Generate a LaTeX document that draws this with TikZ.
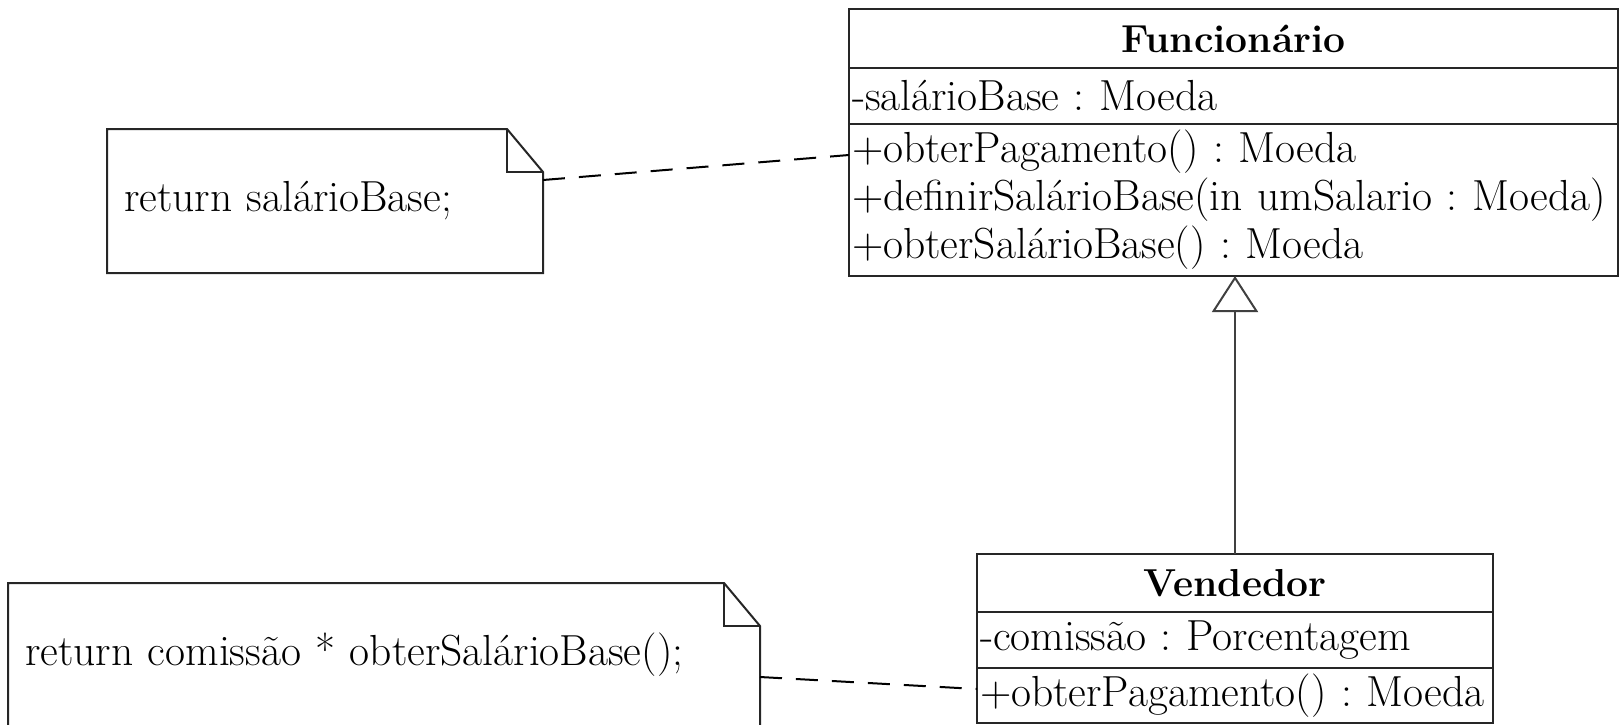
\documentclass[tikz,border=0pt]{standalone}
\usepackage{tikz}
\usetikzlibrary{positioning,calc,arrows.meta}
\frenchspacing

\begin{document}
\begin{tikzpicture}[
    x=1pt, y=-1pt,
    font=\fontsize{43.5}{48}\selectfont,
    classpart/.style={rectangle, draw=black!85, line width=2.5pt, inner xsep=3pt, inner ysep=0pt, outer sep=0pt, align=left},
    classname/.style={classpart, align=center, font=\fontsize{39}{48}\selectfont\bfseries},
    notebox/.style={rectangle, inner xsep=17pt, inner ysep=0pt, outer sep=0pt, align=left, anchor=north west},
    noteline/.style={line width=2pt, black!85},
    notelink/.style={line width=2pt, dash pattern=on 22pt off 14pt},
    inherit/.style={line width=2pt, black!75, -{Triangle[open, length=36pt, width=46pt, line width=2pt]}}
]
    \useasboundingbox (0,0) rectangle (1619,724);

    % Class Funcionario
    \node[classname, text width=763pt, minimum height=59pt, anchor=north west] (funcName) at (849,9) {Funcionário};
    \node[classpart, text width=763pt, minimum height=56pt, below=0pt of funcName] (funcAttr) {-salárioBase : Moeda};
    \node[classpart, text width=763pt, minimum height=152pt, below=0pt of funcAttr] (funcOps) {+obterPagamento() : Moeda\\+definirSalárioBase(in umSalario : Moeda)\\+obterSalárioBase() : Moeda};

    % Class Vendedor
    \node[classname, text width=510pt, minimum height=58pt, anchor=north west] (vendName) at (977,554) {Vendedor};
    \node[classpart, text width=510pt, minimum height=56pt, below=0pt of vendName] (vendAttr) {-comissão : Porcentagem};
    \node[classpart, text width=510pt, minimum height=55pt, below=0pt of vendAttr] (vendOps) {+obterPagamento() : Moeda};

    % Notes
    \node[notebox, text width=402pt, minimum height=144pt] (baseNote) at (107,129) {return salárioBase;};
    \node[notebox, text width=718pt, minimum height=144pt] (payNote) at (8,583) {return comissão * obterSalárioBase();};

    \draw[noteline] (baseNote.north west) -- ([xshift=-36pt]baseNote.north east) -- ([yshift=-43pt]baseNote.north east) -- (baseNote.south east) -- (baseNote.south west) -- cycle;
    \draw[noteline] ([xshift=-36pt]baseNote.north east) |- ([yshift=-43pt]baseNote.north east);
    \draw[noteline] (payNote.north west) -- ([xshift=-36pt]payNote.north east) -- ([yshift=-43pt]payNote.north east) -- (payNote.south east) -- (payNote.south west) -- cycle;
    \draw[noteline] ([xshift=-36pt]payNote.north east) |- ([yshift=-43pt]payNote.north east);

    % Links from notes to operations
    \draw[notelink] ([yshift=-51pt]baseNote.north east) -- ([yshift=-31pt]funcOps.north west);
    \draw[notelink] ([yshift=-94pt]payNote.north east) -- ([yshift=-21pt]vendOps.north west);

    % Generalization
    \draw[inherit] (vendName.north) -- (vendName.north |- funcOps.south);
\end{tikzpicture}
\end{document}
